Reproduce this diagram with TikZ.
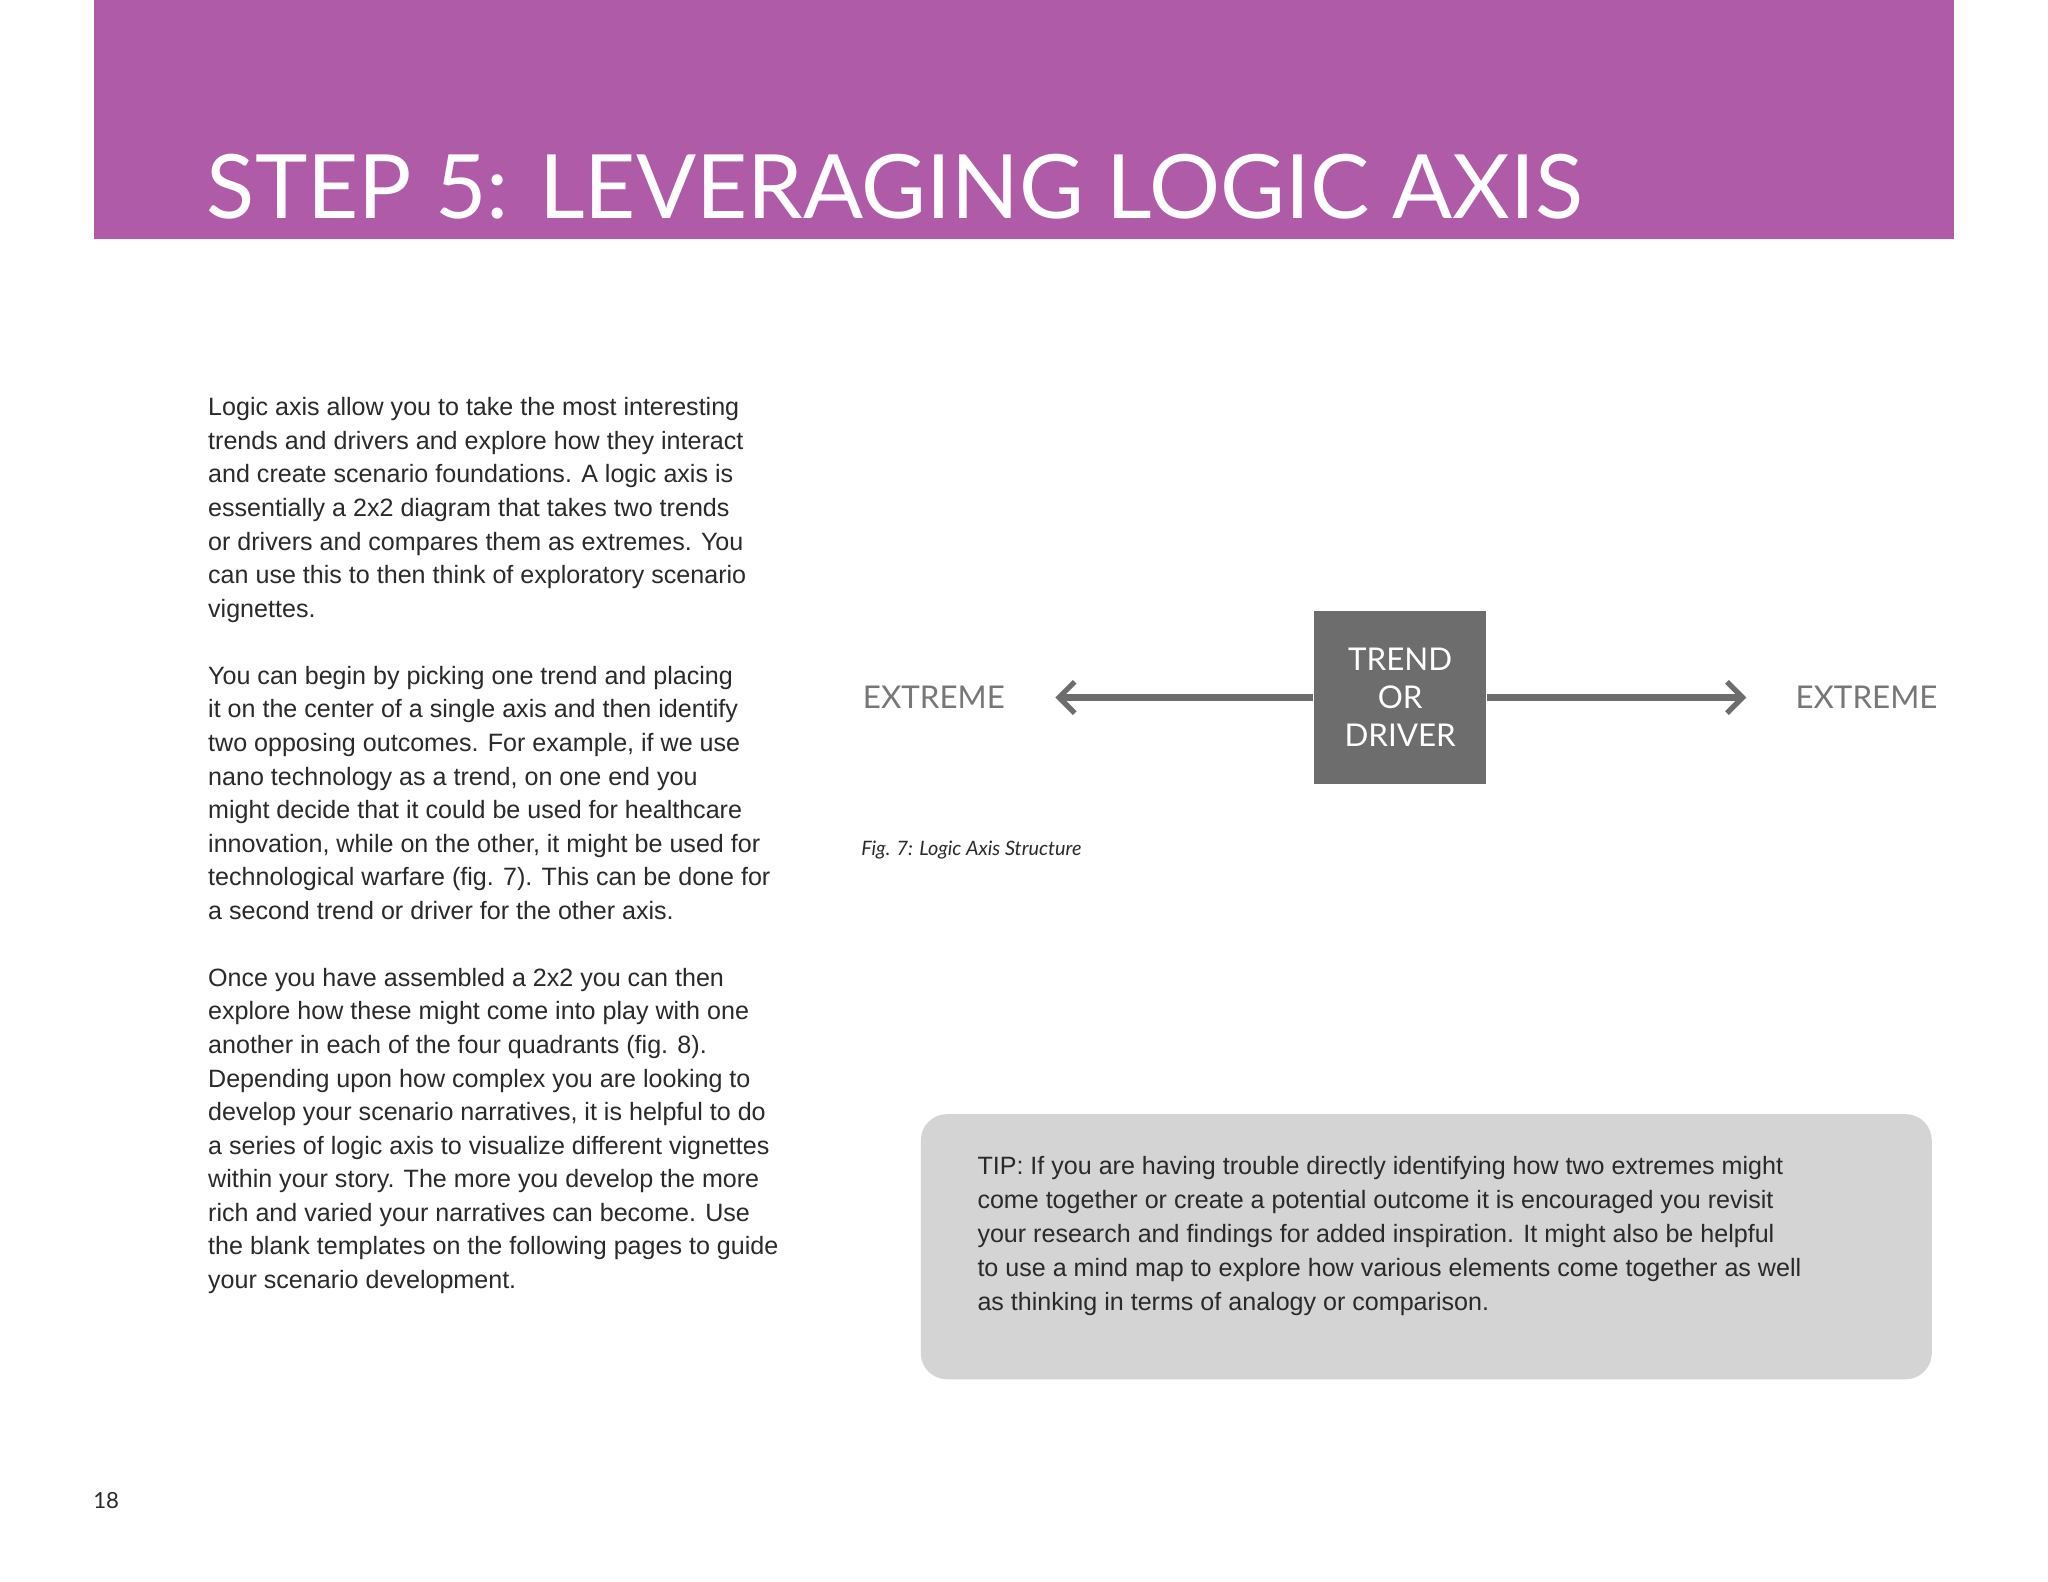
\documentclass[tikz,border=0pt]{standalone}
\usepackage{fontspec}
\setmainfont{Liberation Sans}
\newfontfamily\latof{Lato}
\usetikzlibrary{arrows.meta}
\definecolor{banner}{HTML}{AF5BA7}
\definecolor{boxgray}{HTML}{6D6D6D}
\definecolor{lblgray}{HTML}{777777}
\definecolor{tipgray}{HTML}{D4D4D4}
\definecolor{txt}{HTML}{2A2A2A}
\begin{document}
\begin{tikzpicture}[x=0.5pt,y=-0.5pt,
  body/.style={anchor=north west,align=left,inner sep=0pt,text=txt,font=\fontsize{9.6}{12.85}\selectfont},
  ext/.style={text=lblgray,font=\latof\fontsize{12}{14}\selectfont},
  axisline/.style={draw=boxgray,line width=2.5pt,-{Straight Barb[length=6pt,width=12pt,line width=2pt]}}]
\useasboundingbox (0,0) rectangle (1568,1211);
\fill[white] (0,0) rectangle (1568,1211);
\fill[banner] (72,0) rectangle (1496,183);
\node[anchor=base west,inner sep=0pt,text=white,font=\latof\fontsize{34}{40}\selectfont] (title) at (158,167) {STEP 5: LEVERAGING LOGIC AXIS};
\node[body] (p1) at (159,304) {Logic axis allow you to take the most interesting\\
trends and drivers and explore how they interact\\
and create scenario foundations. A logic axis is\\
essentially a 2x2 diagram that takes two trends\\
or drivers and compares them as extremes. You\\
can use this to then think of exploratory scenario\\
vignettes.\\[12.85pt]
You can begin by picking one trend and placing\\
it on the center of a single axis and then identify\\
two opposing outcomes. For example, if we use\\
nano technology as a trend, on one end you\\
might decide that it could be used for healthcare\\
innovation, while on the other, it might be used for\\
technological warfare (fig. 7). This can be done for\\
a second trend or driver for the other axis.\\[12.85pt]
Once you have assembled a 2x2 you can then\\
explore how these might come into play with one\\
another in each of the four quadrants (fig. 8).\\
Depending upon how complex you are looking to\\
develop your scenario narratives, it is helpful to do\\
a series of logic axis to visualize different vignettes\\
within your story. The more you develop the more\\
rich and varied your narratives can become. Use\\
the blank templates on the following pages to guide\\
your scenario development.};
\node[fill=boxgray,minimum width=66pt,minimum height=66pt,inner sep=0pt,align=center,text=white,font=\latof\fontsize{12}{14.5}\selectfont] (trend) at (1072,534) {TREND\\OR\\DRIVER};
\node[ext] (e1) at (715,534) {EXTREME};
\node[ext] (e2) at (1429,534) {EXTREME};
\coordinate (l) at (808,534);
\coordinate (r) at (1337,534);
\draw[axisline] (trend.west) -- (l);
\draw[axisline] (trend.east) -- (r);
\node[anchor=base west,inner sep=0pt,text=txt,font=\latof\itshape\fontsize{7.6}{9}\selectfont] (cap) at (659,655) {Fig. 7: Logic Axis Structure};
\fill[tipgray,rounded corners=10pt] (705,853) rectangle (1479,1056);
\node[body,font=\fontsize{9.6}{13}\selectfont] (tip) at (748,885) {TIP: If you are having trouble directly identifying how two extremes might\\
come together or create a potential outcome it is encouraged you revisit\\
your research and findings for added inspiration. It might also be helpful\\
to use a mind map to explore how various elements come together as well\\
as thinking in terms of analogy or comparison.};
\node[anchor=base west,inner sep=0pt,text=txt,font=\latof\fontsize{8.5}{10}\selectfont] (pg) at (71,1155) {18};
\end{tikzpicture}
\end{document}
